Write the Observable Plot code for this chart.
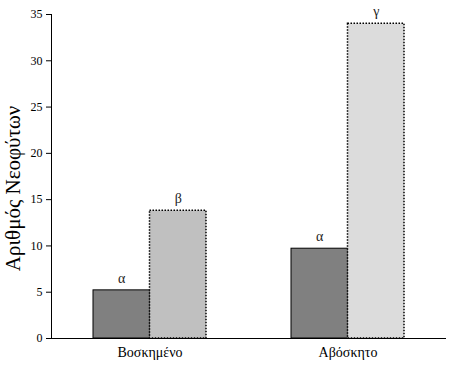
<!DOCTYPE html>
<html>
<head>
<meta charset="utf-8">
<script src="https://cdn.jsdelivr.net/npm/d3@7"></script>
<script src="https://cdn.jsdelivr.net/npm/@observablehq/plot@0.6"></script>
<style>
  html, body { margin: 0; padding: 0; background: #fff; }
  svg { font-family: "Liberation Serif", "Times New Roman", serif; }
</style>
</head>
<body>
<div id="chart"></div>
<script>
const groups = ["Βοσκημένο", "Αβόσκητο"];
const darkValues = [5.2, 9.7];
const lightValues = [13.8, 34.0];
const darkLabels = ["α", "α"];
const lightLabels = ["β", "γ"];
const lightColors = ["#c0c0c0", "#dcdcdc"];
const yTicks = [0, 5, 10, 15, 20, 25, 30, 35];

const dark = groups.map((g, i) => ({group: g, value: darkValues[i], label: darkLabels[i]}));
const light = groups.map((g, i) => ({group: g, value: lightValues[i], label: lightLabels[i], color: lightColors[i]}));

const half = 56.5;

const chart = Plot.plot({
  width: 461,
  height: 367,
  marginLeft: 51,
  marginRight: 15,
  marginTop: 14,
  marginBottom: 29,
  style: {fontFamily: "'Liberation Serif', 'Times New Roman', serif", background: "#fff", color: "#000"},
  x: {domain: groups, paddingInner: 0.4293, paddingOuter: 0.212, label: null, tickSize: 0, tickPadding: 9},
  y: {domain: [0, 35], ticks: yTicks, tickSize: 5, line: true, label: "Αριθμός Νεοφύτων", labelAnchor: "center", labelArrow: "none", labelOffset: 46},
  marks: [
    Plot.barY(dark, {x: "group", y: "value", fill: "#808080", stroke: "#000", strokeWidth: 1, insetRight: half}),
    Plot.barY(light, {x: "group", y: "value", fill: d => d.color, stroke: "#000", strokeWidth: 1.5, strokeDasharray: "1.5,1.5", insetLeft: half}),
    Plot.text(dark, {x: "group", y: "value", text: "label", dx: -half / 2, dy: -12, fontSize: 14, fill: "#222"}),
    Plot.text(light, {x: "group", y: "value", text: "label", dx: half / 2, dy: -12, fontSize: 14, fill: "#222"}),
    Plot.ruleY([0], {stroke: "#000", strokeWidth: 1})
  ]
});

d3.select(chart).selectAll("[aria-label='x-axis tick label'] text").style("font-size", "14px");
d3.select(chart).selectAll("[aria-label='y-axis tick label'] text").style("font-size", "12px");
d3.select(chart).selectAll("[aria-label='y-axis label'] text").style("font-size", "21px").attr("dx", -12);
document.getElementById("chart").appendChild(chart);
</script>
</body>
</html>
